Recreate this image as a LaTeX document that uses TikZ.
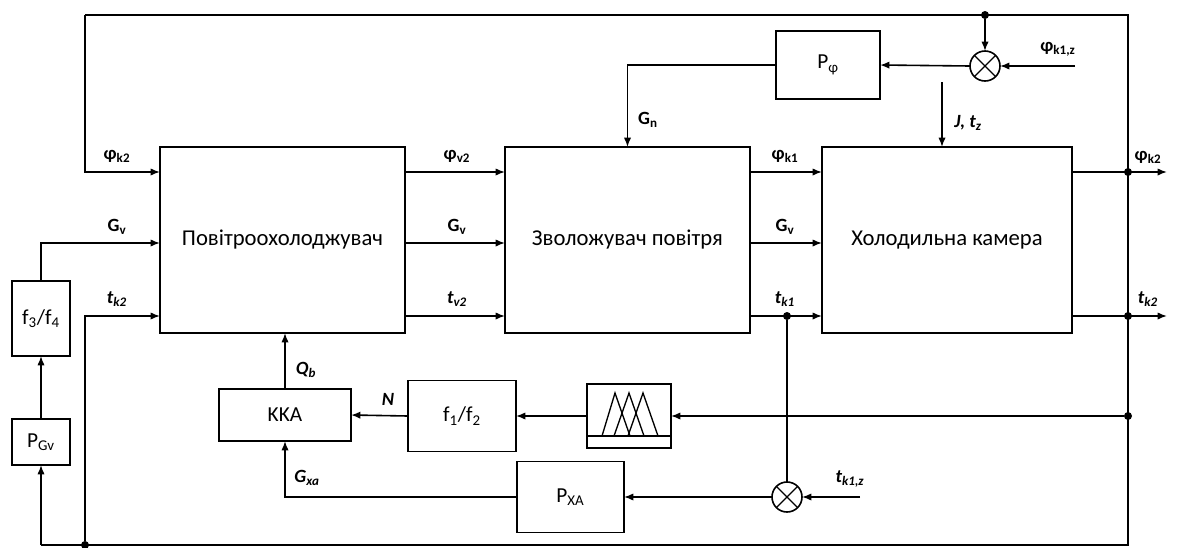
\documentclass[tikz,border=0pt]{standalone}
\usepackage{fontspec}
\setmainfont{Carlito}
\usetikzlibrary{arrows.meta,calc}
\tikzset{
  blk/.style={draw,line width=1.3pt,inner sep=0pt,outer sep=0pt,font=\fontsize{17}{20}\selectfont},
  sblk/.style={draw,line width=1.3pt,inner sep=0pt,outer sep=0pt,font=\fontsize{16}{18}\selectfont},
  sumc/.style={draw,circle,line width=1.2pt,minimum size=22.5pt,inner sep=0pt,outer sep=0pt},
  ln/.style={line width=1.2pt},
  arr/.style={line width=1.2pt,-{Latex[length=7pt,width=5.5pt]}},
  lbl/.style={font=\fontsize{14}{16}\selectfont\bfseries,inner sep=0pt},
  dot/.style={circle,fill=black,minimum size=6pt,inner sep=0pt}
}
\begin{document}
\begin{tikzpicture}[x=0.75pt,y=-0.75pt]
\useasboundingbox (0,0) rectangle (1178,547);
% blocks
\node[blk,minimum width=183.75pt,minimum height=139.5pt] (b1) at (282.5,240) {Повітроохолоджувач};
\node[blk,minimum width=183.75pt,minimum height=139.5pt] (b2) at (627.5,240) {Зволожувач повітря};
\node[blk,minimum width=187.5pt,minimum height=139.5pt] (b3) at (947,240) {Холодильна камера};
\node[sblk,minimum width=43.5pt,minimum height=56.25pt] (fz) at (41,318.5) {f\textsubscript{3}/f\textsubscript{4}};
\node[sblk,minimum width=43.5pt,minimum height=34.5pt] (pgv) at (41,442) {P\textsubscript{Gv}};
\node[sblk,minimum width=78pt,minimum height=51pt] (pphi) at (828,65) {P\textsubscript{φ}};
\node[sblk,minimum width=99pt,minimum height=39pt] (kka) at (285,415) {KKA};
\node[sblk,minimum width=81pt,minimum height=53.25pt] (f12) at (462,416) {f\textsubscript{1}/f\textsubscript{2}};
\node[sblk,minimum width=63pt,minimum height=48pt] (fuz) at (629,416) {};
\node[sblk,minimum width=80.25pt,minimum height=53.25pt] (pxa) at (570.5,497) {P\textsubscript{XA}};
\node[sumc] (s1) at (985,66) {};
\node[sumc] (s2) at (787,497) {};
\foreach \s in {s1,s2}{
  \draw[line width=1pt] (\s.north east) -- (\s.south west) (\s.north west) -- (\s.south east);
}
% fuzzy symbol
\draw[line width=1pt] (fuz.west |- 0,436) -- (fuz.east |- 0,436);
\draw[line width=1pt] (602,436) -- (615,393) -- (630,436);
\draw[line width=1pt] (614,436) -- (629,393) -- (644,436);
\draw[line width=1pt] (628,436) -- (643,393) -- (658,436);
% coordinates
\coordinate (rA) at (0,172);
\coordinate (rB) at (0,243);
\coordinate (rC) at (0,316);
\coordinate (tl) at (85,15);
\coordinate (tr) at (1128,15);
\node[dot] (jtop) at (985,15) {};
\node[dot] (jA) at (1128,172) {};
\node[dot] (jC) at (1128,316) {};
\node[dot] (jF) at (1128,416) {};
\node[dot] (jk1) at (787,316) {};
\node[dot] (jbl) at (85,545) {};
\coordinate (bl) at (41,545);
\coordinate (br) at (1128,545);
\coordinate (outA) at (1167,172);
\coordinate (outC) at (1167,316);
\coordinate (phiz) at (1075,66);
\coordinate (tkz) at (860,497);
\coordinate (jz) at (942,82);
% connectors
\draw[ln] (tl) -- (tr) -- (br) -- (bl);
\draw[arr] (tl) |- (b1.west |- rA);
\draw[arr] (b1.east |- rA) -- (b2.west |- rA);
\draw[arr] (b2.east |- rA) -- (b3.west |- rA);
\draw[arr] (b3.east |- rA) -- (outA);
\draw[arr] (jtop) -- (s1.north);
\draw[arr] (phiz) -- (s1.east);
\draw[arr] (s1.west) -- (pphi.east);
\draw[arr] (pphi.west) -| (b2.north);
\draw[arr] (jz) -- (b3.north -| jz);
\draw[arr] (fz.north) |- (b1.west |- rB);
\draw[arr] (b1.east |- rB) -- (b2.west |- rB);
\draw[arr] (b2.east |- rB) -- (b3.west |- rB);
\draw[arr] (pgv.north) -- (fz.south);
\draw[arr] (bl) -- (pgv.south);
\draw[arr] (jbl) |- (b1.west |- rC);
\draw[arr] (b1.east |- rC) -- (b2.west |- rC);
\draw[arr] (b2.east |- rC) -- (b3.west |- rC);
\draw[arr] (b3.east |- rC) -- (outC);
\draw[arr] (jF) -- (fuz.east);
\draw[arr] (fuz.west) -- (f12.east);
\draw[arr] (f12.west) -- (kka.east);
\draw[arr] (kka.north) -- (b1.south -| kka.north);
\draw[ln] (jk1) -- (s2.north);
\draw[arr] (tkz) -- (s2.east);
\draw[arr] (s2.west) -- (pxa.east);
\draw[arr] (pxa.west) -| (kka.south);
% labels
\node[lbl] (l1) at (117,156) {φ\textsubscript{k2}};
\node[lbl] (l2) at (117,227) {G\textsubscript{v}};
\node[lbl] (l3) at (117,299) {\itshape t\textsubscript{k2}};
\node[lbl] (l4) at (457,156) {φ\textsubscript{v2}};
\node[lbl] (l5) at (457,227) {G\textsubscript{v}};
\node[lbl] (l6) at (457,299) {\itshape t\textsubscript{v2}};
\node[lbl] (l7) at (785,156) {φ\textsubscript{k1}};
\node[lbl] (l8) at (785,227) {G\textsubscript{v}};
\node[lbl] (l9) at (785,299) {\itshape t\textsubscript{k1}};
\node[lbl] (l10) at (1148,157) {φ\textsubscript{k2}};
\node[lbl] (l11) at (1148,299) {\itshape t\textsubscript{k2}};
\node[lbl] (l12) at (1058,49) {φ\textsubscript{k1,z}};
\node[lbl] (l13) at (648,120) {G\textsubscript{n}};
\node[lbl] (l14) at (968,123) {\itshape J, t\textsubscript{z}};
\node[lbl] (l15) at (306,370) {\itshape Q\textsubscript{b}};
\node[lbl] (l16) at (388,399) {\itshape N};
\node[lbl] (l17) at (307,478) {\itshape G\textsubscript{xa}};
\node[lbl] (l18) at (850,479) {\itshape t\textsubscript{k1,z}};
\end{tikzpicture}
\end{document}
